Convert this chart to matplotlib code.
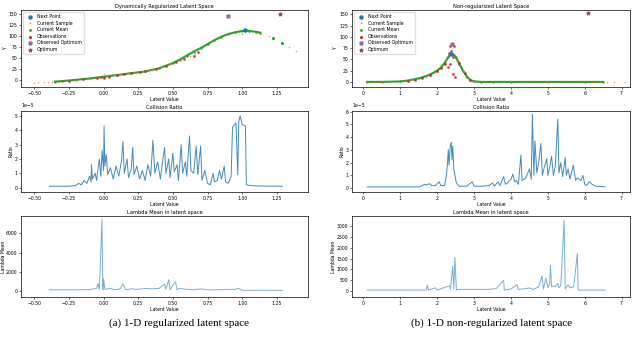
import matplotlib
matplotlib.use("Agg")
import matplotlib.pyplot as plt
import numpy as np

# ---- data: regularized (a) ----
mean_x_a = [-0.35, -0.3, -0.2, -0.1, 0.0, 0.1, 0.2, 0.3, 0.4, 0.5, 0.55, 0.6, 0.65, 0.7, 0.75,
            0.8, 0.85, 0.9, 0.95, 1.0, 1.05, 1.1, 1.13]
mean_y_a = [-3, -2, 1, 4, 8, 12, 16, 20, 27, 39, 47, 56, 65, 73, 82, 91, 99, 105, 109, 112, 112, 110, 108]
mean_tail_x_a = [1.22, 1.29]
mean_tail_y_a = [96, 85]
sample_x_a = [-0.5, -0.47, -0.43, -0.4, -0.37, -0.33, -0.3, -0.25, -0.2, -0.15, -0.1, -0.05, 0.0, 0.03,
              0.08, 0.12, 0.18, 0.22, 0.28, 0.35, 0.42, 0.48, 0.55, 0.62, 0.66, 0.72, 0.8, 0.88, 0.95,
              1.0, 1.05, 1.1, 1.13, 1.19, 1.22, 1.34, 1.39]
sample_y_a = [-6, -5, -5, -4, -4, -3, -3, -1, 1, 3, 5, 7, 14, 10, 12, 15, 17, 18, 22, 24, 30, 36, 47,
              56, 60, 75, 90, 102, 108, 104, 110, 108, 105, 101, 94, 75, 66]
obs_x_a = [-0.25, -0.15, -0.05, -0.02, 0.0, 0.04, 0.1, 0.15, 0.2, 0.26, 0.3, 0.38, 0.45, 0.52, 0.58, 0.65, 0.68]
obs_y_a = [-2, 3, 6, 8, 4, 8, 12, 14, 16, 18, 20, 25, 33, 41, 48, 55, 64]
next_a = (1.02, 113)
obs_opt_a = (0.9, 145)
opt_a = (1.27, 151)

coll_x_a = [-0.39, -0.25, -0.20, -0.18, -0.16, -0.14, -0.12, -0.10, -0.09, -0.087, -0.08, -0.06, -0.05,
            -0.04, -0.03, -0.02, -0.01, 0.0, 0.004, 0.01, 0.02, 0.03, 0.05, 0.07, 0.09, 0.11, 0.13, 0.14,
            0.15, 0.17, 0.18, 0.20, 0.21, 0.22, 0.24, 0.26, 0.28, 0.30, 0.32, 0.34, 0.356, 0.37, 0.39,
            0.41, 0.42, 0.44, 0.45, 0.47, 0.48, 0.50, 0.51, 0.53, 0.54, 0.56, 0.57, 0.59, 0.60, 0.62,
            0.63, 0.65, 0.668, 0.68, 0.70, 0.71, 0.73, 0.75, 0.77, 0.79, 0.80, 0.82, 0.836, 0.85, 0.87,
            0.88, 0.90, 0.92, 0.93, 0.944, 0.955, 0.968, 0.975, 0.985, 1.00, 1.023, 1.03, 1.06, 1.10, 1.29]
coll_y_a = [0.1, 0.1, 0.15, 0.3, 0.2, 0.5, 0.3, 0.8, 0.4, 1.6, 0.6, 1.0, 0.5, 1.3, 2.0, 0.8, 2.6, 1.2,
            4.3, 1.5, 2.3, 0.9, 1.4, 0.6, 1.5, 0.8, 1.9, 3.2, 1.0, 2.0, 0.7, 1.3, 2.8, 0.9, 1.5, 0.6,
            1.2, 0.5, 1.6, 0.8, 3.3, 1.0, 1.8, 0.6, 1.4, 2.8, 1.0, 2.0, 0.7, 2.4, 1.1, 1.6, 0.5, 3.0,
            1.0, 1.8, 0.8, 3.6, 1.2, 1.0, 2.9, 0.9, 2.9, 0.5, 1.2, 0.3, 0.2, 1.0, 0.4, 0.5, 1.2, 0.6,
            1.5, 0.4, 0.3, 0.8, 4.2, 4.4, 4.5, 0.9, 4.6, 5.0, 4.4, 4.3, 0.2, 0.15, 0.12, 0.1]

lam_x_a = [-0.39, -0.2, -0.1, -0.05, -0.04, -0.03, -0.011, -0.005, 0.0, 0.01, 0.05, 0.08, 0.12, 0.14,
           0.16, 0.2, 0.25, 0.3, 0.35, 0.4, 0.44, 0.45, 0.47, 0.48, 0.51, 0.52, 0.53, 0.55, 0.6, 0.65,
           0.7, 0.75, 0.8, 0.95, 0.97, 1.0, 1.29]
lam_y_a = [150, 150, 170, 300, 800, 200, 7400, 150, 1300, 200, 300, 150, 250, 780, 150, 250, 200, 300,
           250, 300, 750, 200, 1200, 150, 850, 950, 150, 300, 200, 150, 250, 150, 150, 200, 300, 100, 100]

# ---- data: non-regularized (b) ----
mean_x_b = [0.1, 0.5, 1.0, 1.2, 1.4, 1.6, 1.8, 2.0, 2.1, 2.2, 2.3, 2.35, 2.4, 2.45, 2.5, 2.6, 2.7,
            2.8, 2.9, 3.0, 3.2, 3.5, 4.0, 5.0, 6.0, 6.5]
mean_y_b = [0, 0, 1, 3, 6, 10, 16, 25, 32, 42, 55, 61, 62, 60, 55, 40, 25, 12, 4, 1, 0, 0, 0, 0, 0, 0]
sample_x_b = [0.1, 0.3, 0.5, 0.7, 0.9, 1.1, 1.3, 1.5, 1.7, 1.9, 2.1, 2.25, 2.4, 2.55, 2.7, 2.85, 3.0,
              3.3, 3.6, 3.8, 4.0, 4.3, 4.6, 5.0, 5.4, 5.8, 6.2, 6.4, 6.6, 6.8, 7.1]
sample_y_b = [0, 0, 0, 1, 0, 2, 4, 7, 12, 20, 32, 48, 60, 48, 25, 8, 2, 0, 2, 2, 2, 1, 0, 0, 0, 0, 0,
              0, 0, 0, 0]
obs_x_b = [1.2, 1.4, 1.6, 1.8, 2.0, 2.1, 2.2, 2.35, 2.46, 2.37, 2.33, 2.42, 2.30, 2.36, 2.44, 2.48,
           2.6, 2.75, 2.9]
obs_y_b = [3, 5, 9, 15, 24, 30, 40, 79, 79, 69, 64, 55, 32, 40, 18, 12, 42, 20, 5]
next_b = (2.38, 62)
obs_opt_b = (2.4, 84)
opt_b = (6.1, 152)

coll_x_b = [0.1, 1.5, 1.6, 1.65, 1.7, 1.8, 1.85, 1.95, 2.05, 2.1, 2.2, 2.25, 2.28, 2.30, 2.32, 2.35,
            2.38, 2.40, 2.42, 2.45, 2.48, 2.52, 2.6, 2.8, 2.95, 3.0, 3.2, 3.4, 3.5, 3.55, 3.65, 3.7, 3.8,
            3.85, 3.9, 4.0, 4.05, 4.1, 4.15, 4.2, 4.27, 4.3, 4.4, 4.5, 4.55, 4.58, 4.62, 4.65, 4.7,
            4.75, 4.81, 4.85, 4.9, 4.97, 5.0, 5.05, 5.1, 5.15, 5.2, 5.27, 5.3, 5.35, 5.4, 5.47, 5.5,
            5.55, 5.6, 5.69, 5.75, 5.8, 5.9, 5.95, 6.0, 6.05, 6.12, 6.2, 6.3, 6.55]
coll_y_b = [0.1, 0.1, 0.2, 0.3, 0.25, 0.35, 0.2, 0.2, 0.5, 0.2, 0.2, 1.0, 2.0, 3.0, 1.8, 3.2, 3.6, 2.2,
            3.3, 1.5, 1.0, 0.4, 0.15, 0.15, 0.5, 0.15, 0.15, 0.2, 0.4, 0.15, 0.5, 0.2, 0.9, 0.3, 0.4,
            0.7, 1.1, 0.5, 0.6, 0.3, 2.6, 0.6, 0.8, 1.5, 0.7, 5.8, 1.0, 3.7, 1.2, 2.0, 3.5, 1.0, 1.6,
            2.3, 1.0, 1.6, 2.5, 1.0, 1.7, 5.4, 1.2, 2.0, 0.9, 2.4, 1.0, 1.5, 0.7, 1.8, 0.6, 0.8, 0.6,
            1.0, 0.3, 0.2, 0.5, 0.3, 0.15, 0.1]

lam_x_b = [0.1, 1.7, 1.73, 1.76, 1.95, 2.0, 2.33, 2.36, 2.42, 2.45, 2.48, 2.52, 2.6, 3.4, 3.6, 3.8,
           3.82, 4.0, 4.16, 4.2, 4.4, 4.5, 4.6, 4.75, 4.84, 4.88, 4.95, 5.0, 5.05, 5.07, 5.1, 5.15,
           5.2, 5.27, 5.3, 5.35, 5.44, 5.47, 5.55, 5.6, 5.7, 5.8, 5.82, 6.55]
lam_y_b = [50, 50, 280, 50, 150, 50, 250, 100, 1150, 100, 1550, 50, 80, 80, 120, 500, 50, 100, 300, 80,
           120, 150, 80, 200, 700, 100, 600, 150, 350, 1180, 200, 250, 200, 350, 150, 250, 3250, 100,
           300, 150, 200, 1750, 50, 50]

coll_scale = 1e-5
fs = 3.3

plt.rcParams.update({
    "font.size": fs,
    "axes.linewidth": 0.5,
    "xtick.major.width": 0.4,
    "ytick.major.width": 0.4,
    "xtick.major.size": 1.5,
    "ytick.major.size": 1.5,
    "xtick.major.pad": 1.2,
    "ytick.major.pad": 1.0,
    "axes.titlepad": 1.5,
    "axes.labelpad": 0.8,
})

fig = plt.figure(figsize=(6.4, 3.38), dpi=100)

cols = [(0.033, 0.448), (0.55, 0.434)]
rows = [(0.743, 0.228), (0.432, 0.240), (0.121, 0.240)]

def top_plot(ax, title, mx, my, sx, sy, ox, oy, nxt, oopt, opt, tail=None):
    ax.plot(mx, my, color="C2", lw=1.5, marker=".", ms=1.3)
    ax.scatter(sx, sy, s=2, marker="+", color="C1", lw=0.4, alpha=0.7, zorder=3)
    if tail is not None:
        ax.scatter(tail[0], tail[1], s=1.5, color="C2", zorder=3)
    ax.scatter(ox, oy, s=1.2, color="C3", alpha=0.7, zorder=4)
    ax.scatter([nxt[0]], [nxt[1]], s=5, color="C0", zorder=5)
    ax.scatter([oopt[0]], [oopt[1]], s=5, marker="X", color="C4", zorder=5)
    ax.scatter([opt[0]], [opt[1]], s=5, marker="*", color="C5", zorder=5)
    # legend proxies
    h1 = ax.scatter([], [], s=5, color="C0")
    h2 = ax.scatter([], [], s=3, marker="+", color="C1", lw=0.4)
    h3 = ax.scatter([], [], s=1, color="C2")
    h4 = ax.scatter([], [], s=1.5, color="C3")
    h5 = ax.scatter([], [], s=5, marker="X", color="C4")
    h6 = ax.scatter([], [], s=5, marker="*", color="C5")
    ax.legend([h1, h2, h3, h4, h5, h6],
              ["Next Point", "Current Sample", "Current Mean", "Observations",
               "Observed Optimum", "Optimum"],
              loc="upper left", fontsize=fs, frameon=True, framealpha=0.8,
              borderpad=0.4, labelspacing=0.35, handletextpad=0.6, edgecolor="0.85")
    ax.set_title(title, fontsize=fs + 0.4)
    ax.set_xlabel("Latent Value")
    ax.set_ylabel("Y")
    ax.set_yticks([0, 25, 50, 75, 100, 125, 150])


# (a)
x0, w = cols[0]
ax = fig.add_axes([x0, rows[0][0], w, rows[0][1]])
top_plot(ax, "Dynamically Regularized Latent Space", mean_x_a, mean_y_a, sample_x_a, sample_y_a,
         obs_x_a, obs_y_a, next_a, obs_opt_a, opt_a, tail=(mean_tail_x_a, mean_tail_y_a))
ax.set_xlim(-0.594, 1.473)
ax.set_ylim(-15, 160)

ax = fig.add_axes([x0, rows[1][0], w, rows[1][1]])
ax.plot(coll_x_a, np.array(coll_y_a) * coll_scale, color="C0", lw=0.7, alpha=0.85)
ax.set_title("Collision Ratio", fontsize=fs + 0.4)
ax.set_xlabel("Latent Value")
ax.set_ylabel("Ratio")
ax.set_xlim(-0.594, 1.473)
ax.set_ylim(-0.3e-5, 5.35e-5)
ax.ticklabel_format(axis="y", style="sci", scilimits=(0, 0))
ax.yaxis.get_offset_text().set_fontsize(fs)

ax = fig.add_axes([x0, rows[2][0], w, rows[2][1]])
ax.plot(lam_x_a, lam_y_a, color="C0", lw=0.7, alpha=0.6)
ax.set_title("Lambda Mean in latent space", fontsize=fs + 0.4)
ax.set_xlabel("Latent Value")
ax.set_ylabel("Lambda Mean", labelpad=0.3)
ax.set_xlim(-0.594, 1.473)
ax.set_ylim(-600, 7770)
ax.set_yticks([0, 2000, 4000, 6000])

# (b)
x0, w = cols[1]
ax = fig.add_axes([x0, rows[0][0], w, rows[0][1]])
top_plot(ax, "Non-regularized Latent Space", mean_x_b, mean_y_b, sample_x_b, sample_y_b,
         obs_x_b, obs_y_b, next_b, obs_opt_b, opt_b)
ax.set_xlim(-0.31, 7.22)
ax.set_ylim(-11, 160)

ax = fig.add_axes([x0, rows[1][0], w, rows[1][1]])
ax.plot(coll_x_b, np.array(coll_y_b) * coll_scale, color="C0", lw=0.7, alpha=0.85)
ax.set_title("Collision Ratio", fontsize=fs + 0.4)
ax.set_xlabel("Latent Value")
ax.set_ylabel("Ratio")
ax.set_xlim(-0.31, 7.22)
ax.set_ylim(-0.3e-5, 6.05e-5)
ax.ticklabel_format(axis="y", style="sci", scilimits=(0, 0))
ax.yaxis.get_offset_text().set_fontsize(fs)

ax = fig.add_axes([x0, rows[2][0], w, rows[2][1]])
ax.plot(lam_x_b, lam_y_b, color="C0", lw=0.7, alpha=0.6)
ax.set_title("Lambda Mean in latent space", fontsize=fs + 0.4)
ax.set_xlabel("Latent Value")
ax.set_ylabel("Lambda Mean")
ax.set_xlim(-0.31, 7.22)
ax.set_ylim(-273, 3455)
ax.set_yticks([0, 500, 1000, 1500, 2000, 2500, 3000])

# captions
fig.text(0.28, 0.045, "(a) 1-D regularized latent space", ha="center", va="center",
         fontsize=8, family="Liberation Serif")
fig.text(0.768, 0.045, "(b) 1-D non-regularized latent space", ha="center", va="center",
         fontsize=8, family="Liberation Serif")

fig.savefig("out.png", dpi=100)
